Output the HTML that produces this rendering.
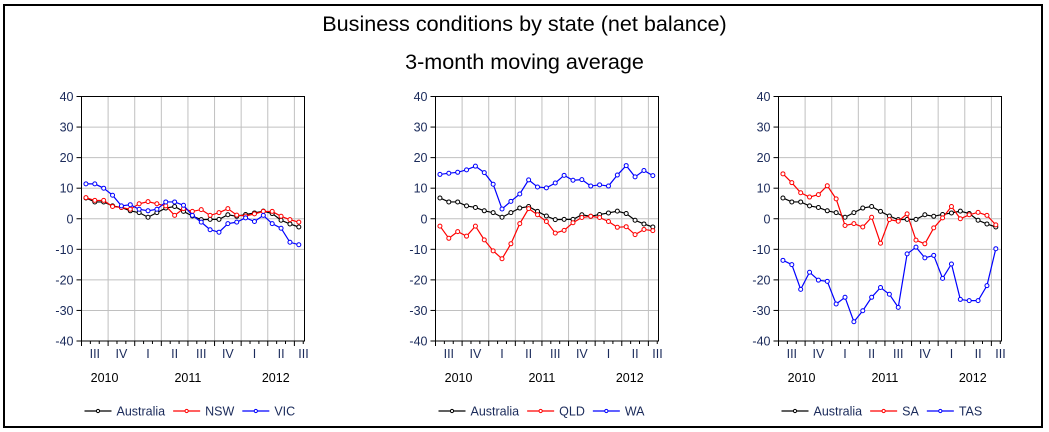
<!DOCTYPE html>
<html><head><meta charset="utf-8">
<style>
html,body{margin:0;padding:0;background:#fff;}
body{width:1049px;height:432px;overflow:hidden;position:relative;font-family:"Liberation Sans",sans-serif;}
#frame{position:absolute;left:3px;top:4px;width:1036px;height:420px;border:2px solid #000;}
.t{position:absolute;left:0;width:1049px;text-align:center;font-size:21.6px;color:#000;}
</style></head>
<body>
<div id="frame"></div>
<div class="t" style="top:11px">Business conditions by state (net balance)</div>
<div class="t" style="top:49px">3-month moving average</div>
<svg id="svg" width="1049" height="432" style="position:absolute;left:0;top:0"></svg>
<script>
const australia=[6.8,5.5,5.5,4.2,3.7,2.6,2.0,0.5,2.0,3.5,4.0,2.4,0.9,-0.3,-0.2,-0.2,1.3,0.8,1.4,1.9,2.5,1.7,-0.5,-1.7,-2.7];
const nsw=[6.9,6.0,6.0,4.0,3.7,3.1,4.9,5.6,4.9,4.2,1.1,3.3,2.4,3.0,1.1,2.0,3.3,1.2,0.9,1.6,2.4,2.4,0.8,-0.3,-1.1];
const vic=[11.4,11.4,10.0,7.7,4.2,4.6,3.1,2.6,3.1,5.5,5.5,4.4,1.1,-1.1,-3.6,-4.4,-1.6,-1.1,0.3,-0.9,1.1,-1.6,-3.1,-7.7,-8.5];
const qld=[-2.4,-6.4,-4.2,-5.7,-2.4,-6.9,-10.5,-13.1,-8.2,-1.6,3.3,1.3,-0.9,-4.7,-3.8,-1.3,0.4,0.8,0.4,-0.9,-2.8,-2.6,-5.2,-3.5,-3.9];
const wa=[14.5,14.9,15.2,16.0,17.2,15.1,11.3,3.2,5.7,8.1,12.7,10.4,10.1,11.7,14.2,12.6,12.8,10.7,11.1,10.7,14.3,17.4,13.7,15.8,14.1];
const sa=[14.7,11.8,8.5,7.1,7.9,10.8,6.5,-2.2,-1.6,-2.7,0.5,-8.0,-0.3,-0.8,1.6,-7.0,-8.2,-3.0,0.3,4.0,0,1.3,2.1,1.1,-2.0];
const tas=[-13.6,-15.0,-23.1,-17.5,-20.1,-20.5,-27.9,-25.7,-33.7,-30.1,-25.7,-22.5,-24.7,-29.0,-11.5,-9.3,-12.8,-12.0,-19.5,-14.8,-26.4,-26.8,-26.8,-21.9,-9.8];
const yTicks=[40,30,20,10,0,-10,-20,-30,-40];
const quarterLabels=["III","IV","I","II","III","IV","I","II","III"];
const yearLabels=["2010","2011","2012"];
const yearMonthPos=[2.6,12.0,21.9];

const NS="http://www.w3.org/2000/svg";
const svg=document.getElementById('svg');
function mk(tag,attrs,parent){const e=document.createElementNS(NS,tag);for(const k in attrs)e.setAttribute(k,attrs[k]);(parent||svg).appendChild(e);return e;}
const panels=[
 {x0:81.5,name:'nsw-vic',series:[[australia,'#000','Australia'],[nsw,'#ff0000','NSW'],[vic,'#0000ff','VIC']]},
 {x0:435.5,name:'qld-wa',series:[[australia,'#000','Australia'],[qld,'#ff0000','QLD'],[wa,'#0000ff','WA']]},
 {x0:778.5,name:'sa-tas',series:[[australia,'#000','Australia'],[sa,'#ff0000','SA'],[tas,'#0000ff','TAS']]}
];
const plotTop=96.5,plotBot=341,W=223,MW=8.87;
panels.forEach(p=>{
 const g=mk('g',{});
 
 
 const X=i=>p.x0+(i+0.5)*MW;
 const Y=v=>plotTop+(40-v)/80*(plotBot-plotTop);
 for(let q=1;q<=8;q++){const gx=p.x0+q*3*MW;const l=mk('line',{x1:gx,x2:gx,y1:plotTop,y2:plotBot,stroke:'#c0c0c0','stroke-width':1},g);
  
  }
 yTicks.forEach(v=>{if(v===40||v===-40)return;const l=mk('line',{x1:p.x0,x2:p.x0+W,y1:Y(v),y2:Y(v),stroke:'#c0c0c0','stroke-width':1},g);
  
  });
 const r=mk('rect',{x:p.x0,y:plotTop,width:W,height:plotBot-plotTop,fill:'none',stroke:'#000','stroke-width':1},g);
 
 
 yTicks.forEach(v=>{
  mk('line',{x1:p.x0-5,x2:p.x0,y1:Y(v),y2:Y(v),stroke:'#000'},g);
  const t=mk('text',{x:p.x0-8,y:Y(v)+4.5,'text-anchor':'end','font-size':12.5,fill:'#1a2a5a'},g);
  t.textContent=v;
  
  
 });
 for(let m=0;m<=25;m++){const tx=p.x0+m*MW;if(tx>p.x0+W+0.5)break;mk('line',{x1:tx,x2:tx,y1:plotBot,y2:plotBot+(m%3===0?5:3),stroke:'#000'},g);}
 quarterLabels.forEach((q,i)=>{
  const qx=Math.min(p.x0+(i*3+1.5)*MW,p.x0+W-1);
  const t=mk('text',{x:qx,y:358,'text-anchor':'middle','font-size':12.5,fill:'#1a2a5a'},g);
  t.textContent=q;
  
  
 });
 yearLabels.forEach((y,i)=>{
  const t=mk('text',{x:p.x0+yearMonthPos[i]*MW,y:382,'text-anchor':'middle','font-size':12.5,fill:'#000'},g);
  t.textContent=y;
  
  
 });
 p.series.forEach(([arr,col,nm])=>{
  const pl=mk('polyline',{points:arr.map((v,i)=>X(i)+','+Y(v)).join(' '),fill:'none',stroke:col,'stroke-width':1.2},g);
  
  
  arr.forEach((v,i)=>{const c=mk('circle',{cx:X(i),cy:Y(v),r:2,fill:'#fff',stroke:col,'stroke-width':1},g);
   
   });
 });
 let lx=p.x0+3;
 p.series.forEach(([arr,col,nm])=>{
  const lg=mk('g',{},g);
  
  
  mk('line',{x1:lx,x2:lx+27,y1:411,y2:411,stroke:col,'stroke-width':1.2},lg);
  mk('circle',{cx:lx+13.5,cy:411,r:1.6,fill:'#fff',stroke:col},lg);
  const t=mk('text',{x:lx+32,y:415.5,'font-size':12.5,fill:'#1a2a5a'},lg);
  t.textContent=nm;
  lx+=32+t.getComputedTextLength()+8;
 });
});
</script>
</body></html>
